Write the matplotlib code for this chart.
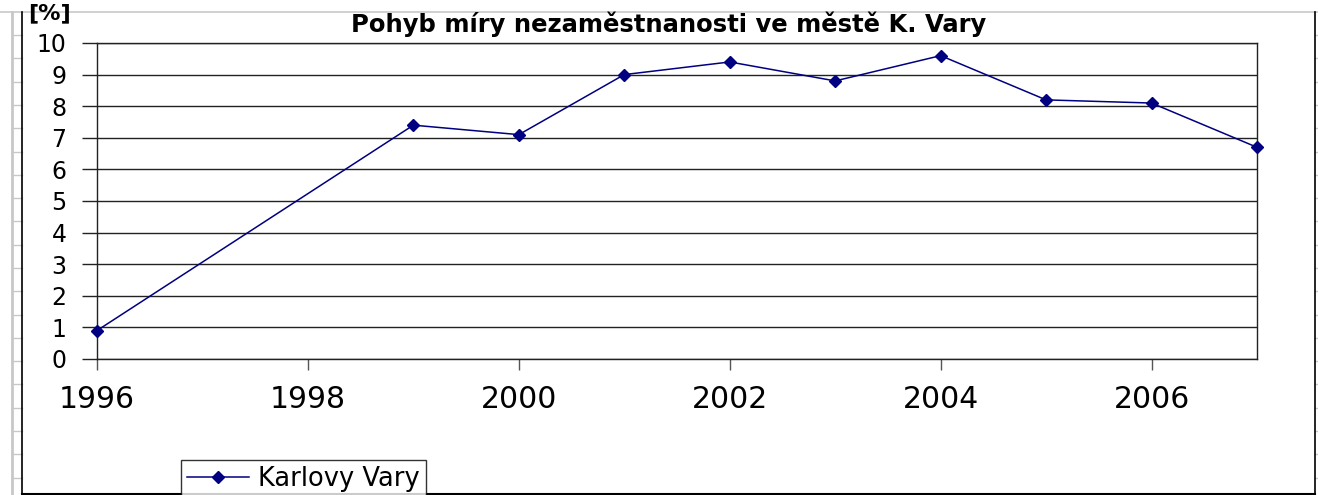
"""
Pohyb miry nezamestnanosti - Karlovy Vary, Excel-style line chart.
"""
import numpy as np
import matplotlib
matplotlib.use("Agg")
import matplotlib.pyplot as plt
from matplotlib.lines import Line2D

years = [1996, 1999, 2000, 2001, 2002, 2003, 2004, 2005, 2006, 2007]
rate = [0.9, 7.4, 7.1, 9.0, 9.4, 8.8, 9.6, 8.2, 8.1, 6.7]
x_ticks = [1996, 1998, 2000, 2002, 2004, 2006]
y_ticks = list(range(0, 11))

W, H = 1318, 495
fig = plt.figure(figsize=(W / 100, H / 100), dpi=100)
plt.rcParams["font.family"] = ["DejaVu Sans"]

# spreadsheet background: gray grid edge and row marks
gray = "#c8c8c8"
fig.add_artist(Line2D([0, 1], [1 - 12 / H, 1 - 12 / H], color=gray, lw=1.2))
fig.add_artist(Line2D([12 / W, 12 / W], [0, 1 - 12 / H], color=gray, lw=2))
for yr in np.arange(35, H, 23.3):
    fy = 1 - yr / H
    fig.add_artist(Line2D([12 / W, 22 / W], [fy, fy], color=gray, lw=1))
    fig.add_artist(Line2D([1315 / W, 1 - 0.5 / W], [fy, fy], color=gray, lw=1))

# chart frame
fig.add_artist(Line2D([22 / W, 22 / W], [1 / H, 1 - 12 / H], color="black", lw=1.2))
fig.add_artist(Line2D([1315 / W, 1315 / W], [1 / H, 1 - 12 / H], color="black", lw=1.2))
fig.add_artist(Line2D([22 / W, 1315 / W], [1.5 / H, 1.5 / H], color="black", lw=1.5))

ax = fig.add_axes([97 / W, 1 - 359 / H, (1257 - 97) / W, (359 - 43) / H])
ax.plot(years, rate, color="#000080", lw=1.1, marker="D", markersize=6,
        label="Karlovy Vary", clip_on=False, zorder=3)

ax.set_xlim(1996, 2007)
ax.set_ylim(0, 10)
ax.set_xticks(x_ticks)
ax.set_yticks(y_ticks)
ax.yaxis.grid(True, color="#222222", lw=1)
ax.set_axisbelow(True)
for s in ax.spines.values():
    s.set_color("#222222")
    s.set_linewidth(1)
ax.tick_params(axis="y", length=11, width=1, color="#222222", pad=11, labelsize=17)
ax.tick_params(axis="x", length=8, width=1, color="#555555", pad=11, labelsize=21.5)

fig.text(0.507, 1 - 24 / H, "Pohyb míry nezaměstnanosti ve městě K. Vary",
         ha="center", va="center", fontsize=17.5, fontweight="bold")
fig.text(28 / W, 1 - 13 / H, "[%]", ha="left", va="center", fontsize=16,
         fontweight="bold")

leg = fig.legend(loc="upper left", bbox_to_anchor=(181 / W, 1 - 460 / H),
                 frameon=True, fancybox=False, fontsize=18.5, handlelength=2.4,
                 borderpad=0.25, borderaxespad=0, handletextpad=0.35)
leg.get_frame().set_edgecolor("black")
leg.get_frame().set_linewidth(1)

fig.savefig("out.png", dpi=100)
